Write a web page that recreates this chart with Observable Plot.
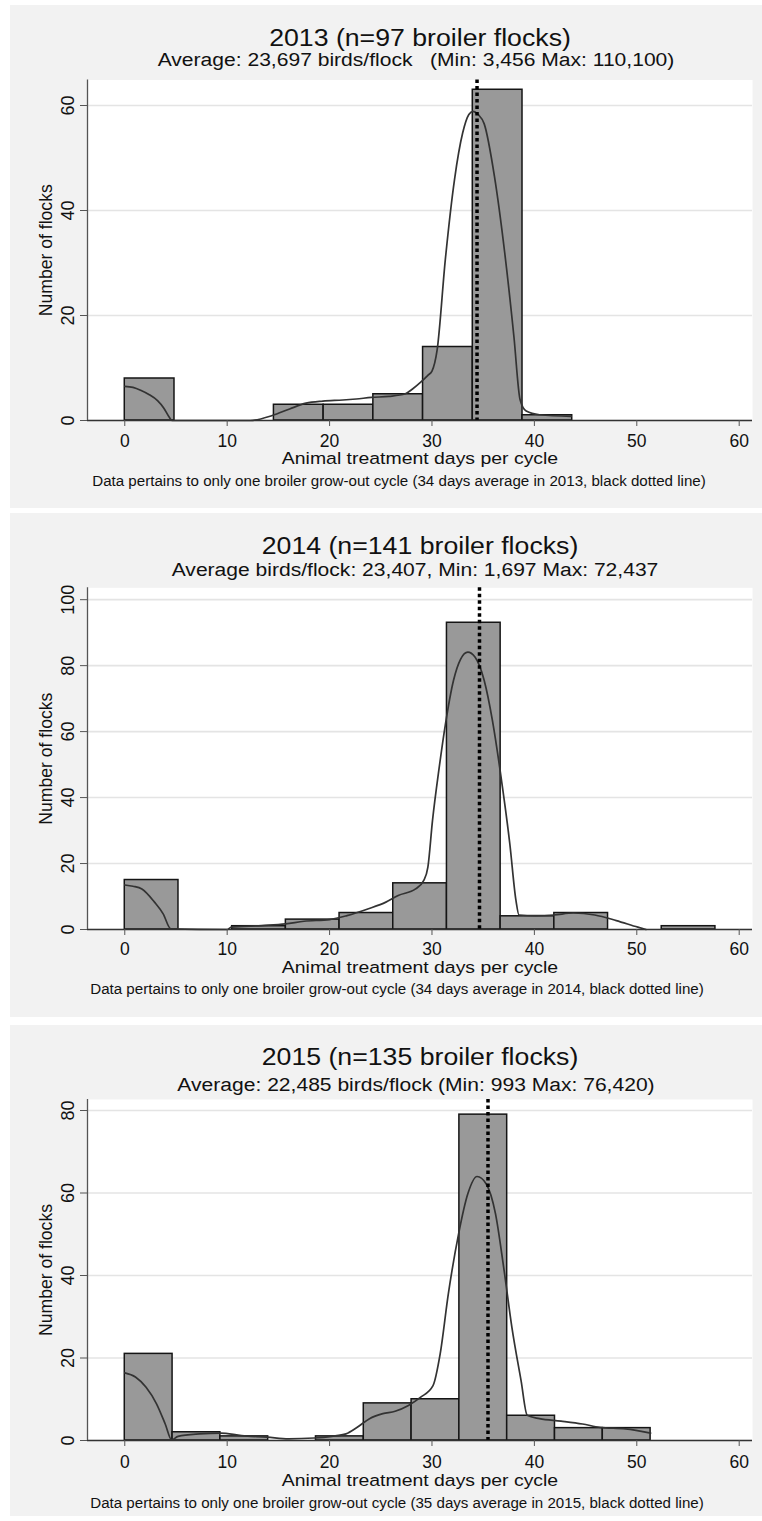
<!DOCTYPE html>
<html><head><meta charset="utf-8">
<script src="https://cdn.jsdelivr.net/npm/d3@7"></script>
<script src="https://cdn.jsdelivr.net/npm/@observablehq/plot@0.6"></script>
<style>
body{margin:0;background:#fff;font-family:"Liberation Sans",Arial,sans-serif;}
#page{position:relative;width:762px;height:1521px;overflow:hidden;}
.panel{position:absolute;left:10px;width:752px;background:#f2f2f2;}
.panel svg{position:absolute;left:0;top:0;overflow:visible;}
.t{position:absolute;white-space:pre;line-height:1;color:#111;}
</style></head><body><div id="page"></div><script>
// ---------- data ----------
const xTicks = [0, 10, 20, 30, 40, 50, 60];
const xTitle = "Animal treatment days per cycle";
const yTitle = "Number of flocks";

const titles = ["2013 (n=97 broiler flocks)", "2014 (n=141 broiler flocks)", "2015 (n=135 broiler flocks)"];
const subtitles = [
  "Average: 23,697 birds/flock   (Min: 3,456 Max: 110,100)",
  "Average birds/flock: 23,407, Min: 1,697 Max: 72,437",
  "Average: 22,485 birds/flock (Min: 993 Max: 76,420)"
];
const notes = [
  "Data pertains to only one broiler grow-out cycle (34 days average in 2013, black dotted line)",
  "Data pertains to only one broiler grow-out cycle (34 days average in 2014, black dotted line)",
  "Data pertains to only one broiler grow-out cycle (35 days average in 2015, black dotted line)"
];

// histogram bin edges (days) and counts
const edges2013 = [0, 4.855, 9.71, 14.565, 19.42, 24.275, 29.13, 33.985, 38.84, 43.695];
const counts2013 = [8, 0, 0, 3, 3, 5, 14, 63, 1];
const edges2014 = [0, 5.244, 10.487, 15.731, 20.975, 26.218, 31.462, 36.705, 41.949, 47.193, 52.436, 57.68];
const counts2014 = [15, 0, 1, 3, 5, 14, 93, 4, 5, 0, 1];
const edges2015 = [0, 4.668, 9.336, 14.004, 18.672, 23.34, 28.008, 32.676, 37.344, 42.012, 46.68, 51.35];
const counts2015 = [21, 2, 1, 0, 1, 9, 10, 79, 6, 3, 3];

// mean treatment days (dotted line)
const means = [34.4, 34.64, 35.47];

// kernel density curves (scaled to frequency)
const kdeX2013 = [0, 0.8, 1.6, 2.4, 3.2, 3.8, 4.35, 4.6, 12.26, 14.4, 16.1, 17.7, 19.35, 21.3, 22.6, 24.1, 25.8, 27.4, 28.1, 28.9, 29.6, 30.0, 30.5, 31.3, 32.2, 33.0, 33.6, 34.0, 34.5, 35.1, 36.1, 37.1, 38.0, 38.6, 39.2, 40.5, 43.6];
const kdeY2013 = [6.5, 6.3, 5.7, 4.9, 3.8, 2.4, 0.6, 0, 0, 0.95, 2.2, 3.3, 3.7, 3.9, 4.1, 4.4, 4.6, 5.1, 6.0, 7.3, 8.6, 9.4, 13.4, 30.6, 45.9, 54.8, 58.3, 58.9, 58.3, 56.5, 46.5, 32.0, 16.0, 4.0, 1.8, 1.1, 0.8];
const kdeX2014 = [0, 0.8, 1.67, 2.9, 3.75, 4.5, 10.0, 10.4, 13.4, 15.7, 17.5, 20.0, 21.7, 23.8, 25.5, 26.7, 28.4, 29.2, 29.6, 30.05, 30.7, 31.3, 32.1, 32.8, 33.5, 34.2, 35.1, 35.9, 36.7, 37.6, 38.2, 38.5, 40.1, 41.9, 43.8, 45.9, 48.0, 50.1, 50.9];
const kdeY2014 = [13.5, 13.1, 12.3, 8.3, 4.75, 0.2, 0, 0.7, 1.2, 1.7, 2.5, 3.0, 4.2, 6.3, 8.3, 10.3, 12.3, 14.9, 18.9, 33, 49, 62, 75.5, 82, 84.1, 82.6, 75.5, 63.4, 47.2, 26, 8.8, 4.4, 4.2, 4.4, 5.0, 4.4, 2.7, 0.7, 0];
const kdeX2015 = [0, 1.04, 2.08, 3.1, 3.95, 4.57, 5.2, 7.3, 9.36, 11.4, 13.9, 16.0, 18.5, 20.2, 21.6, 22.7, 23.9, 25.2, 26.4, 27.7, 28.9, 30.1, 30.8, 31.6, 32.6, 33.5, 34.4, 35.3, 36.2, 37.0, 37.8, 38.7, 39.3, 40.5, 42.6, 44.7, 46.4, 48.9, 51.35];
const kdeY2015 = [16.4, 15.4, 12.9, 8.9, 4.0, 0.16, 1.0, 1.6, 1.8, 1.2, 0.8, 0.4, 0.6, 1.0, 1.6, 3.2, 5.3, 6.5, 7.1, 8.5, 10.5, 13.3, 21, 35.6, 50.1, 59.8, 64, 62.2, 55, 42, 27.5, 14.5, 6.1, 5.3, 4.7, 4.0, 3.2, 2.8, 1.8];

const yTicks2013 = [0, 20, 40, 60];
const yTicks2014 = [0, 20, 40, 60, 80, 100];
const yTicks2015 = [0, 20, 40, 60, 80];

// ---------- layout ----------
const xDomain = [-3.64, 61.3];
const panels = [
  {top: 5,    height: 503, mt: 74.5, mb: 88, ymax: 64.86, yTicks: yTicks2013, edges: edges2013, counts: counts2013, kx: kdeX2013, ky: kdeY2013, mean: means[0], pad: 8,
   tB: 46.5, sB: 66.5, sC: 416, xB: 465, nB: 485.5, nC: 398.5},
  {top: 513,  height: 504, mt: 74.3, mb: 88, ymax: 103.6, yTicks: yTicks2014, edges: edges2014, counts: counts2014, kx: kdeX2014, ky: kdeY2014, mean: means[1], pad: 7.5,
   tB: 555, sB: 576.7, sC: 415, xB: 974, nB: 994, nC: 397},
  {top: 1025, height: 491, mt: 74, mb: 76, ymax: 82.67, yTicks: yTicks2015, edges: edges2015, counts: counts2015, kx: kdeX2015, ky: kdeY2015, mean: means[2], pad: 9.5,
   tB: 1065.7, sB: 1091.7, sC: 415.5, xB: 1486.5, nB: 1507.5, nC: 396.5}
];

const page = document.getElementById("page");

function addText(div, p, str, cx, baseline, fs, sx) {
  const el = document.createElement("div");
  el.className = "t";
  el.textContent = str;
  el.style.fontSize = fs + "px";
  el.style.left = (cx - 10) + "px";
  el.style.top = (baseline - p.top - 0.8465 * fs) + "px";
  el.style.transform = `translateX(-50%) scaleX(${sx})`;
  div.appendChild(el);
}

panels.forEach((p, k) => {
  const div = document.createElement("div");
  div.className = "panel";
  div.style.top = p.top + "px";
  div.style.height = p.height + "px";
  page.appendChild(div);

  const bins = p.counts.map((c, i) => ({x1: p.edges[i], x2: p.edges[i + 1], count: c})).filter(d => d.count > 0);
  const kde = p.kx.map((x, i) => ({x, y: p.ky[i]}));

  const svg = Plot.plot({
    width: 752, height: p.height,
    marginLeft: 77, marginRight: 10, marginTop: p.mt, marginBottom: p.mb,
    x: {domain: xDomain},
    y: {domain: [0, p.ymax]},
    style: {background: "transparent", fontFamily: "'Liberation Sans', Arial, sans-serif", color: "#111", overflow: "visible"},
    marks: [
      Plot.frame({fill: "white", stroke: null}),
      Plot.gridY({ticks: p.yTicks, stroke: "#e4e4e4", strokeOpacity: 1, strokeWidth: 1.6}),
      Plot.rect(bins, {x1: "x1", x2: "x2", y1: 0, y2: "count", fill: "#999999", stroke: "#151515", strokeWidth: 1.5}),
      Plot.line(kde, {x: "x", y: "y", stroke: "#333333", strokeWidth: 1.7, curve: "monotone-x"}),
      Plot.ruleX([p.mean], {stroke: "#000", strokeWidth: 3.5, strokeDasharray: "3.5,3"}),
      Plot.ruleY([0], {stroke: "#333", strokeWidth: 1.3}),
      Plot.ruleX([xDomain[0]], {stroke: "#555", strokeWidth: 1.3}),
      Plot.axisX({ticks: xTicks, tickSize: 6, tickPadding: p.pad, fontSize: 17.5, label: null, stroke: "#555", fill: "#111"}),
      Plot.axisY({ticks: p.yTicks, tickSize: 7, tickPadding: 7, tickRotate: -90, fontSize: 18, label: null, stroke: "#555", fill: "#111"}),
      Plot.text([yTitle], {frameAnchor: "left", dx: -35.3, rotate: -90, lineAnchor: "bottom", textAnchor: "middle", fontSize: 17.6, fill: "#111"})
    ]
  });
  div.appendChild(svg);

  addText(div, p, titles[k], 420, p.tB, 23.5, 1.135);
  addText(div, p, subtitles[k], p.sC, p.sB, 18, 1.17);
  addText(div, p, xTitle, 419.5, p.xB, 17.2, 1.13);
  addText(div, p, notes[k], p.nC, p.nB, 14, 1.08);
});
</script></body></html>
